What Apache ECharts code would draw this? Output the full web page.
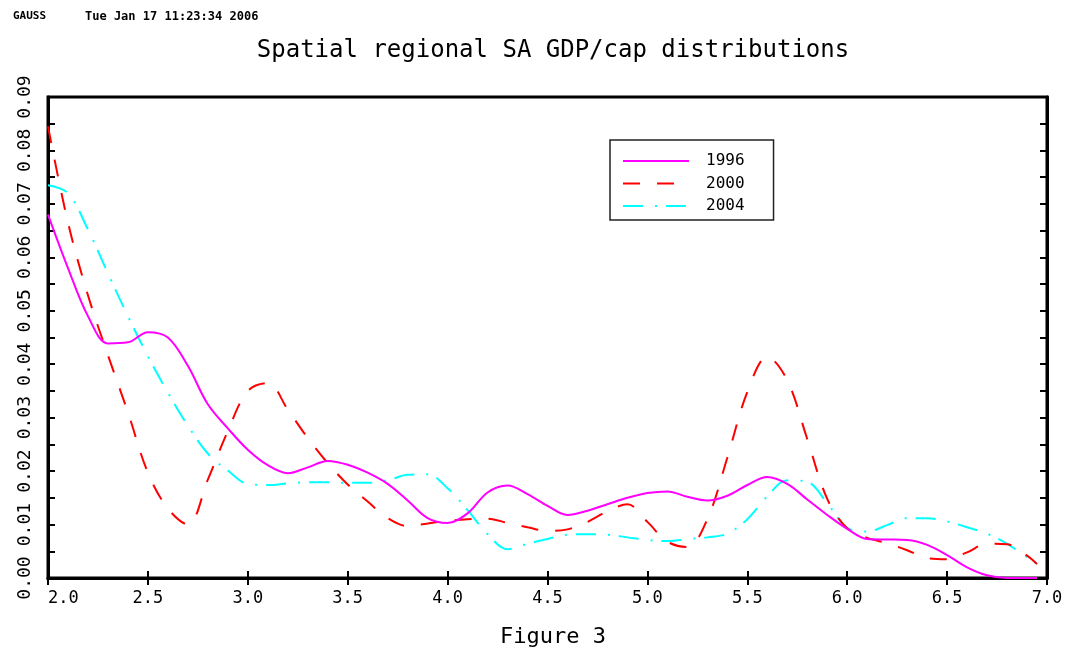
<!DOCTYPE html>
<html><head><meta charset="utf-8">
<script src="https://cdn.jsdelivr.net/npm/echarts@6/dist/echarts.min.js"></script>
<style>html,body{margin:0;padding:0;background:#fff}#c{width:1070px;height:648px}</style>
</head><body><div id="c"></div>
<script>
// x grid (log GDP per capita)
const xs = [2.0,2.1,2.2,2.3,2.4,2.5,2.6,2.7,2.8,2.9,
            3.0,3.1,3.2,3.3,3.4,3.5,3.6,3.7,3.8,3.9,
            4.0,4.1,4.2,4.3,4.4,4.5,4.6,4.7,4.8,4.9,
            5.0,5.1,5.2,5.3,5.4,5.5,5.6,5.7,5.8,5.9,
            6.0,6.1,6.2,6.3,6.4,6.5,6.6,6.7,6.8,6.9,6.95];
const d1996 = [0.068,0.058,0.049,0.0439,0.0441,0.046,0.045,0.0397,0.0325,0.028,
               0.024,0.0211,0.0196,0.0207,0.0219,0.0212,0.0197,0.0176,0.0145,0.0112,
               0.0103,0.0121,0.016,0.0173,0.0157,0.0135,0.0118,0.0126,0.0138,0.015,
               0.0159,0.0162,0.0152,0.0145,0.0154,0.0174,0.0189,0.0176,0.0147,0.0118,
               0.0092,0.0073,0.0072,0.0071,0.0062,0.0043,0.002,0.0005,0.0,0.0,0.0];
const d2000 = [0.0845,0.0665,0.0529,0.0417,0.031,0.0197,0.013,0.0100,0.0184,0.0275,
               0.035,0.0365,0.0315,0.0262,0.0215,0.0175,0.0143,0.0112,0.0097,0.0102,
               0.0107,0.011,0.0111,0.0103,0.0095,0.0088,0.0091,0.0105,0.0125,0.0138,
               0.0105,0.0068,0.0058,0.011,0.0225,0.0348,0.0414,0.037,0.026,0.0148,
               0.0093,0.0075,0.0065,0.0052,0.0037,0.0035,0.0048,0.0064,0.0063,0.0042,0.0026];
const d2004 = [0.0735,0.072,0.0652,0.057,0.049,0.0415,0.0347,0.0285,0.0233,0.0201,
               0.0176,0.0174,0.0177,0.0179,0.0179,0.0178,0.0178,0.0183,0.0193,0.0194,
               0.0168,0.0127,0.0082,0.0054,0.0064,0.0073,0.0081,0.0082,0.0081,0.0076,
               0.0071,0.0069,0.0073,0.0076,0.0083,0.011,0.0153,0.0183,0.018,0.014,
               0.0094,0.0087,0.0099,0.0112,0.0112,0.0106,0.0095,0.0083,0.0064,0.0039,0.0027];
const seriesNames = ['1996','2000','2004'];
const seriesData = [d1996, d2000, d2004];
const seriesColors = ['#ff00ff','#ff0000','#00ffff'];
const seriesDash = ['solid',[17,17],[20,12,2,9]];

const MONO = 'DejaVu Sans Mono';
const chart = echarts.init(document.getElementById('c'), null, {renderer:'canvas'});

const tickStyle = {show:true, inside:true, length:7, lineStyle:{color:'#000', width:2}};
const option = {
  backgroundColor:'#fff',
  animation:false,
  title:[
    {text:'Spatial regional SA GDP/cap distributions', left:548, textAlign:'center', top:34,
     textStyle:{fontFamily:MONO, fontSize:24, fontWeight:'normal', color:'#000'}},
    {text:'Figure 3', left:548, textAlign:'center', top:621,
     textStyle:{fontFamily:MONO, fontSize:22, fontWeight:'normal', color:'#000'}},
    {text:'GAUSS', left:8, top:6,
     textStyle:{fontFamily:MONO, fontSize:11, fontWeight:'bold', color:'#000'}},
    {text:'Tue Jan 17 11:23:34 2006', left:80, top:6,
     textStyle:{fontFamily:MONO, fontSize:12, fontWeight:'bold', color:'#000'}}
  ],
  legend:{
    orient:'vertical', left:610, top:140,
    padding:[13,29,6,12],
    itemWidth:66, itemHeight:14, itemGap:6.5,
    borderColor:'#222', borderWidth:1.5,
    backgroundColor:'#fff',
    data:seriesNames,
    itemStyle:{color:'transparent', borderWidth:0, opacity:0},
    textStyle:{fontFamily:MONO, fontSize:16, color:'#000', padding:[0,0,0,12], lineHeight:14}
  },
  grid:{left:48, right:23, top:97, bottom:70, show:true, borderColor:'#000', borderWidth:3, backgroundColor:'transparent'},
  xAxis:[
    {type:'value', min:2, max:7, interval:0.5, position:'bottom',
     axisLine:{show:true, lineStyle:{color:'#000', width:3}},
     axisTick:tickStyle, splitLine:{show:false},
     axisLabel:{fontFamily:MONO, fontSize:17, color:'#000', margin:12, alignMinLabel:'left',
                formatter:v=>v.toFixed(1)}},
    {type:'value', min:2, max:7, interval:0.5, position:'top',
     axisLine:{show:true, lineStyle:{color:'#000', width:3}},
     axisTick:tickStyle, splitLine:{show:false}, axisLabel:{show:false}}
  ],
  yAxis:[
    {type:'value', min:0, max:0.09, interval:0.01, position:'left',
     axisLine:{show:true, lineStyle:{color:'#000', width:3}},
     axisTick:tickStyle,
     minorTick:{show:true, splitNumber:2, length:7, lineStyle:{color:'#000', width:2}},
     splitLine:{show:false}, minorSplitLine:{show:false},
     axisLabel:{fontFamily:MONO, fontSize:18, color:'#000', rotate:90, margin:14,
                formatter:v=>v.toFixed(2)}},
    {type:'value', min:0, max:0.09, interval:0.01, position:'right',
     axisLine:{show:true, lineStyle:{color:'#000', width:3}},
     axisTick:tickStyle,
     minorTick:{show:true, splitNumber:2, length:7, lineStyle:{color:'#000', width:2}},
     splitLine:{show:false}, axisLabel:{show:false}}
  ],
  series: seriesNames.map((name,i)=>({
    name, type:'line', xAxisIndex:0, yAxisIndex:0,
    data: xs.map((x,j)=>[x, seriesData[i][j]]),
    smooth:0.35, symbol:'none', showSymbol:false,
    lineStyle:{color:seriesColors[i], width:2, type:seriesDash[i]},
    itemStyle:{color:seriesColors[i]},
    z: 3 - i
  }))
};
chart.setOption(option);
</script>
</body></html>
